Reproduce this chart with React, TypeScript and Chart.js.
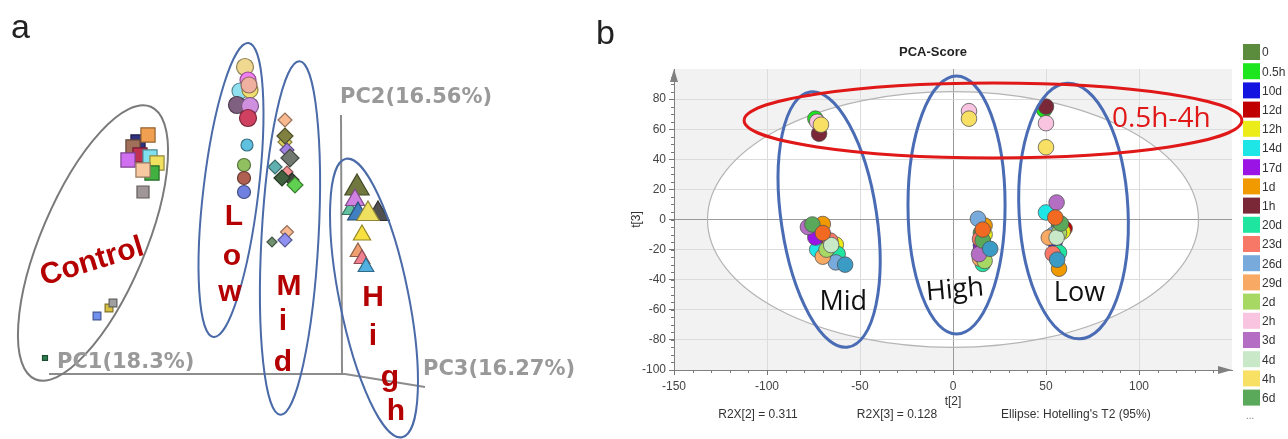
import React, { useEffect, useRef } from "react";
import { Chart, registerables } from "chart.js";
Chart.register(...registerables);

const SANS = '"Liberation Sans", Arial, sans-serif';
const VERD = '"DejaVu Sans", Verdana, sans-serif';
const OPEN = '"Open Sans", "Noto Sans", sans-serif';

// ================= Panel a: projected 3-D PCA scores (drawing units) =================
const controlX = [138, 148, 133, 140, 150, 157, 152, 128, 143, 143, 109, 113, 97, 45];
const controlY = [142, 135, 147, 155, 157, 163, 173, 160, 170, 192, 308, 303, 316, 358];
const controlColors = ["#303080", "#f0a050", "#a0705a", "#c03050", "#80e0f0", "#f0e060", "#40b040", "#d070f0", "#f8c8a0", "#a09898", "#d8c040", "#a0a0a0", "#7090f0", "#308050"];
const controlSizes = [10, 10, 10, 10, 10, 10, 10, 10, 10, 8.5, 5.5, 5.5, 5.5, 3.5];

const lowX = [245, 248, 240, 250, 249, 237, 250, 248, 247, 244, 244, 244];
const lowY = [67, 80, 91, 90, 85, 105, 106, 118, 145, 165, 178, 192];
const lowColors = ["#f0d890", "#f080f0", "#90e0f0", "#f0e070", "#f0b0a0", "#806080", "#d090e0", "#d04060", "#60c0e0", "#90c060", "#b06050", "#7080e0"];
const lowSizes = [8.5, 8, 8, 8, 8, 8.5, 8.5, 8.5, 6, 6.5, 6.5, 6.5];

const midX = [285, 285, 285, 287, 287, 275, 290, 292, 282, 295, 287, 272, 285];
const midY = [120, 142, 136, 150, 172, 167, 158, 180, 178, 185, 232, 242, 240];
const midColors = ["#f8b890", "#e0d060", "#808040", "#a080e0", "#f09090", "#60b0b0", "#707870", "#404840", "#406040", "#60d050", "#f8b890", "#709070", "#9090f0"];
const midSizes = [7, 7, 8, 7, 6, 7, 9, 7, 8, 8, 6.5, 5, 7];

const highX = [357, 350, 355, 378, 358, 368, 362, 358, 362, 366];
const highY = [188, 210, 200, 214, 214, 214, 235, 252, 259, 267];
const highColors = ["#707840", "#60c0a0", "#d080e0", "#505050", "#4080c0", "#f0e060", "#f8e040", "#f0a070", "#f08090", "#50b0e0"];
const highSizes = [14, 9, 11, 13, 12, 13, 10, 9, 9, 9];

// ================= Panel b: PCA-Score t[2] vs t[3] =================
const seriesLabels = ["0", "0.5h", "10d", "12d", "12h", "14d", "17d", "1d", "1h", "20d", "23d", "26d", "29d", "2d", "2h", "3d", "4d", "4h", "6d", "more-1", "more-2"];
const seriesColors = ["#5b8c3e", "#1ee61e", "#1414e0", "#c00000", "#ecec1a", "#1ee6e6", "#9a14e6", "#f09a00", "#7a2838", "#1ee6a0", "#f87868", "#78aadc", "#f8aa64", "#a8d864", "#f8c4e0", "#b46ec4", "#c8e8c8", "#f8e064", "#5aa85a", "#f26a22", "#3a9cc4"];
const seriesT2: number[][] = [
  [-74, 15, 57], [-74, 49], [-72, 15, 54.7], [-72, 16, 60], [-63, 17, 59], [-73, 50], [-74, 15],
  [-70, 17, 57], [-72, 50], [-62, 16, 57], [-66, 14.5, 53.6], [-63, 13.4, 54], [-70, 14.5, 51.5],
  [-68, 17, 57], [-73, 8.6, 50], [-78, 14, 55.7], [-65.5, 55.7], [-71, 8.6, 50], [-75.6, 16, 58],
  [-70, 16, 55], [-58, 20, 56],
];
const seriesT3: number[][] = [
  [-9, -9, -4], [67, 73], [-12, -17, -14.7], [-15, -12, -6], [-16.7, -10, -8], [-20, 4.7], [-12, -20],
  [-3, -4, -32.7], [57, 75], [-23, -29.5, -22], [-14, -13, -22.7], [-28.5, 0.5, -10], [-24.7, -26, -12],
  [-20, -27.5, -9], [65, 72, 64], [-5, -23, 11.3], [-17, -12], [63, 67, 48], [-3.3, -14, -2.7],
  [-9, -6.7, 1.3], [-30, -19.5, -26.7],
];
const legendCount = 19;
const xTickValues = [-150, -100, -50, 0, 50, 100];
const yTickValues = [-100, -80, -60, -40, -20, 0, 20, 40, 60, 80];
const groupLabelsB = ["Mid", "High", "Low"];
const timeLabelB = "0.5h-4h";
const r2xTexts = ["R2X[2] = 0.311", "R2X[3] = 0.128", "Ellipse: Hotelling's T2 (95%)"];

// ---------- helpers ----------
function shade(hex: string, f: number) {
  const n = parseInt(hex.slice(1), 16);
  const r = Math.round(((n >> 16) & 255) * f);
  const g = Math.round(((n >> 8) & 255) * f);
  const b = Math.round((n & 255) * f);
  return `rgb(${r},${g},${b})`;
}
function strokeEllipse(ctx: CanvasRenderingContext2D, cx: number, cy: number, rx: number, ry: number, rotDeg: number) {
  ctx.beginPath();
  ctx.ellipse(cx, cy, rx, ry, (rotDeg * Math.PI) / 180, 0, Math.PI * 2);
  ctx.stroke();
}
function ellPix(chart: any, e: any) {
  const xs = chart.scales.x, ys = chart.scales.y;
  const cx = xs.getPixelForValue(e.cx), cy = ys.getPixelForValue(e.cy);
  const rx = Math.abs(xs.getPixelForValue(e.cx + e.rx) - cx);
  const ry = Math.abs(ys.getPixelForValue(e.cy + e.ry) - cy);
  return { cx, cy, rx, ry };
}

// ---------- panel a overlays ----------
const aEllipses = [
  { cx: 93, cy: 243, rx: 52, ry: 148, rot: 23, color: "#7a7a7a" },
  { cx: 231, cy: 190, rx: 27.5, ry: 148, rot: 6.8, color: "#4a6aa8" },
  { cx: 290, cy: 238, rx: 28.5, ry: 177, rot: 3.1, color: "#4a6aa8" },
  { cx: 374, cy: 298, rx: 34.5, ry: 142, rot: -11.4, color: "#4a6aa8" },
];
const aLetterGroups = [
  { word: "Low", pos: [[234, 217], [232, 257], [230, 293]] },
  { word: "Mid", pos: [[289, 287], [283, 322], [283, 363]] },
  { word: "High", pos: [[373, 298], [373, 337], [390, 378], [396, 412]] },
];

function PanelA() {
  const ref = useRef<HTMLCanvasElement>(null);
  useEffect(() => {
    const groups = [
      { name: "Control", x: controlX, y: controlY, c: controlColors, s: controlSizes, style: "rect" },
      { name: "Low", x: lowX, y: lowY, c: lowColors, s: lowSizes, style: "circle" },
      { name: "Mid", x: midX, y: midY, c: midColors, s: midSizes, style: "rectRot" },
      { name: "High", x: highX, y: highY, c: highColors, s: highSizes, style: "triangle" },
    ];
    const datasets = groups.map((g, gi) => ({
      label: g.name,
      data: g.x.map((x, i) => ({ x, y: g.y[i] })),
      pointStyle: g.style,
      pointRadius: g.s,
      pointBackgroundColor: g.c,
      pointBorderColor: g.c.map((c) => shade(c, 0.6)),
      pointBorderWidth: 1.2,
      showLine: false,
      clip: false,
      order: groups.length - gi,
    }));
    const overlay = {
      id: "overlayA",
      beforeDatasetsDraw(chart: any) {
        const ctx = chart.ctx;
        const xs = chart.scales.x, ys = chart.scales.y;
        const P = (x: number, y: number) => [xs.getPixelForValue(x), ys.getPixelForValue(y)];
        ctx.save();
        ctx.strokeStyle = "#8c8c8c";
        ctx.lineWidth = 2;
        ctx.beginPath();
        let p = P(341, 115); ctx.moveTo(p[0], p[1]);
        p = P(342, 374); ctx.lineTo(p[0], p[1]);
        ctx.stroke();
        ctx.beginPath();
        p = P(49, 374); ctx.moveTo(p[0], p[1]);
        p = P(345, 374); ctx.lineTo(p[0], p[1]);
        p = P(425, 387); ctx.lineTo(p[0], p[1]);
        ctx.stroke();
        ctx.restore();
      },
      afterDatasetsDraw(chart: any) {
        const ctx = chart.ctx;
        const xs = chart.scales.x, ys = chart.scales.y;
        ctx.save();
        ctx.lineWidth = 2;
        aEllipses.forEach((e) => {
          ctx.strokeStyle = e.color;
          const q = ellPix(chart, e);
          strokeEllipse(ctx, q.cx, q.cy, q.rx, q.ry, e.rot);
        });
        // axis titles
        ctx.fillStyle = "#999999";
        ctx.font = `bold 21px ${VERD}`;
        ctx.textAlign = "left";
        ctx.textBaseline = "middle";
        ctx.fillText("PC2(16.56%)", xs.getPixelForValue(340), ys.getPixelForValue(98));
        ctx.fillText("PC1(18.3%)", xs.getPixelForValue(57), ys.getPixelForValue(363));
        ctx.fillText("PC3(16.27%)", xs.getPixelForValue(423), ys.getPixelForValue(370));
        // group labels
        ctx.fillStyle = "#b40000";
        ctx.font = `bold 30px ${SANS}`;
        ctx.textAlign = "center";
        ctx.save();
        ctx.translate(xs.getPixelForValue(92), ys.getPixelForValue(262));
        ctx.rotate((-17 * Math.PI) / 180);
        ctx.fillText("Control", 0, 0);
        ctx.restore();
        aLetterGroups.forEach((g) => {
          g.word.split("").forEach((ch, i) => {
            ctx.fillText(ch, xs.getPixelForValue(g.pos[i][0]), ys.getPixelForValue(g.pos[i][1]));
          });
        });
        // panel letter
        ctx.fillStyle = "#222";
        ctx.font = `34px ${SANS}`;
        ctx.textAlign = "left";
        ctx.textBaseline = "alphabetic";
        ctx.fillText("a", 11, 38);
        ctx.restore();
      },
    };
    const chart = new Chart(ref.current as HTMLCanvasElement, {
      type: "scatter",
      data: { datasets: datasets as any },
      options: {
        animation: false,
        responsive: false,
        devicePixelRatio: 1,
        layout: { padding: 0, autoPadding: false },
        plugins: { legend: { display: false }, tooltip: { enabled: false } },
        scales: {
          x: { type: "linear", min: 0, max: 590, display: false },
          y: { type: "linear", min: 0, max: 439, reverse: true, display: false },
        },
      } as any,
      plugins: [overlay],
    });
    return () => chart.destroy();
  }, []);
  return <canvas ref={ref} width={590} height={439} style={{ position: "absolute", left: 0, top: 0 }} />;
}

// ---------- panel b overlays ----------
const hotelling = { cx: 0, cy: 0, rx: 132, ry: 85 };
const groupEllipsesB = [
  { cx: -66.6, cy: 0, rx: 25.7, ry: 85.7, rot: -8.5 },
  { cx: 1.9, cy: 9.6, rx: 26.1, ry: 85.7, rot: 0 },
  { cx: 64.8, cy: 5.6, rx: 29.3, ry: 85, rot: -2.9 },
];
const timeEllipseB = { cx: 21.5, cy: 65.8, rx: 133.8, ry: 24.9, rot: 0 };
const groupLabelPosB = [[-59, -55, 0], [1, -47, -5], [68, -49, 0]];
const timeLabelPosB = [112, 67];

function PanelB() {
  const ref = useRef<HTMLCanvasElement>(null);
  useEffect(() => {
    const n = seriesLabels.length;
    const datasets = seriesLabels.map((lab, i) => ({
      label: lab,
      data: seriesT2[i].map((x, j) => ({ x, y: seriesT3[i][j] })),
      backgroundColor: seriesColors[i],
      borderColor: "rgba(80,80,80,0.75)",
      pointRadius: 7.8,
      pointBorderWidth: 1,
      order: n - i,
    }));
    const overlay = {
      id: "overlayB",
      beforeDraw(chart: any) {
        const ctx = chart.ctx;
        const a = chart.chartArea;
        ctx.save();
        ctx.fillStyle = "#f2f2f2";
        ctx.fillRect(a.left, a.top, a.right - a.left, a.bottom - a.top);
        const q = ellPix(chart, hotelling);
        ctx.fillStyle = "#ffffff";
        ctx.beginPath();
        ctx.ellipse(q.cx, q.cy, q.rx, q.ry, 0, 0, Math.PI * 2);
        ctx.fill();
        ctx.restore();
      },
      beforeDatasetsDraw(chart: any) {
        const ctx = chart.ctx;
        const a = chart.chartArea;
        const xs = chart.scales.x, ys = chart.scales.y;
        ctx.save();
        ctx.strokeStyle = "#b4b4b4";
        ctx.lineWidth = 1.2;
        const q = ellPix(chart, hotelling);
        strokeEllipse(ctx, q.cx, q.cy, q.rx, q.ry, 0);
        // minor ticks
        ctx.strokeStyle = "#777";
        ctx.lineWidth = 1;
        ctx.beginPath();
        for (let v = -150; v < 150; v += 10) {
          const px = Math.round(xs.getPixelForValue(v)) + 0.5;
          ctx.moveTo(px, a.bottom);
          ctx.lineTo(px, a.bottom + 3);
        }
        for (let v = -100; v < 100; v += 5) {
          const py = Math.round(ys.getPixelForValue(v)) + 0.5;
          ctx.moveTo(a.left - 3, py);
          ctx.lineTo(a.left, py);
        }
        ctx.stroke();
        // arrows
        ctx.fillStyle = "#808080";
        ctx.beginPath();
        ctx.moveTo(a.left, a.top);
        ctx.lineTo(a.left - 4, a.top + 13);
        ctx.lineTo(a.left + 4, a.top + 13);
        ctx.closePath();
        ctx.fill();
        ctx.beginPath();
        ctx.moveTo(a.right, a.bottom);
        ctx.lineTo(a.right - 14, a.bottom - 4);
        ctx.lineTo(a.right - 14, a.bottom + 4);
        ctx.closePath();
        ctx.fill();
        ctx.restore();
      },
      afterDatasetsDraw(chart: any) {
        const ctx = chart.ctx;
        const xs = chart.scales.x, ys = chart.scales.y;
        ctx.save();
        ctx.lineWidth = 3;
        ctx.strokeStyle = "#4a6cb4";
        groupEllipsesB.forEach((e) => {
          const q = ellPix(chart, e);
          strokeEllipse(ctx, q.cx, q.cy, q.rx, q.ry, e.rot);
        });
        ctx.strokeStyle = "#e01818";
        const t = ellPix(chart, timeEllipseB);
        strokeEllipse(ctx, t.cx, t.cy, t.rx, t.ry, timeEllipseB.rot);
        ctx.textAlign = "center";
        ctx.textBaseline = "middle";
        ctx.font = `27px ${OPEN}`;
        ctx.fillStyle = "#111";
        groupLabelsB.forEach((lab, i) => {
          const p = groupLabelPosB[i];
          ctx.save();
          ctx.translate(xs.getPixelForValue(p[0]), ys.getPixelForValue(p[1]));
          ctx.rotate((p[2] * Math.PI) / 180);
          ctx.fillText(lab, 0, 0);
          ctx.restore();
        });
        ctx.fillStyle = "#e01818";
        ctx.font = `28px ${OPEN}`;
        ctx.fillText(timeLabelB, xs.getPixelForValue(timeLabelPosB[0]), ys.getPixelForValue(timeLabelPosB[1]));
        ctx.restore();
      },
      afterDraw(chart: any) {
        const ctx = chart.ctx;
        const a = chart.chartArea;
        ctx.save();
        ctx.fillStyle = "#222";
        ctx.font = `bold 13px ${SANS}`;
        ctx.textAlign = "center";
        ctx.textBaseline = "middle";
        ctx.fillText("PCA-Score", (a.left + a.right) / 2 - 20, 52);
        ctx.fillStyle = "#333";
        ctx.font = `12px ${SANS}`;
        ctx.fillText("t[2]", chart.scales.x.getPixelForValue(0), 402);
        ctx.save();
        ctx.translate(47, chart.scales.y.getPixelForValue(0));
        ctx.rotate(-Math.PI / 2);
        ctx.fillText("t[3]", 0, 0);
        ctx.restore();
        ctx.fillText(r2xTexts[0], 168, 415);
        ctx.fillText(r2xTexts[1], 307, 415);
        ctx.textAlign = "left";
        ctx.fillText(r2xTexts[2], 411, 415);
        // legend
        ctx.font = `12px ${SANS}`;
        for (let i = 0; i < legendCount; i++) {
          const y = 52 + i * 19.2;
          ctx.fillStyle = seriesColors[i];
          ctx.fillRect(653, y - 8, 17, 16);
          ctx.fillStyle = "#333";
          ctx.fillText(seriesLabels[i], 672, y + 1);
        }
        ctx.fillStyle = "#888";
        ctx.font = `10px ${SANS}`;
        ctx.fillText("...", 656, 416);
        // panel letter
        ctx.fillStyle = "#222";
        ctx.font = `34px ${SANS}`;
        ctx.textBaseline = "alphabetic";
        ctx.fillText("b", 6, 44);
        ctx.restore();
      },
    };
    const chart = new Chart(ref.current as HTMLCanvasElement, {
      type: "scatter",
      data: { datasets: datasets as any },
      options: {
        animation: false,
        responsive: false,
        devicePixelRatio: 1,
        layout: { padding: { left: 36, top: 69, right: 56, bottom: 0 }, autoPadding: false },
        plugins: { legend: { display: false }, tooltip: { enabled: false } },
        scales: {
          x: {
            type: "linear",
            min: -150,
            max: 150,
            afterFit: (s: any) => { s.height = 69; },
            afterBuildTicks: (s: any) => { s.ticks = xTickValues.map((v) => ({ value: v })); },
            ticks: { color: "#444", font: { family: SANS, size: 12 }, padding: 4, maxRotation: 0, autoSkip: false },
            grid: { color: (c: any) => (c.tick && c.tick.value === 0 ? "#9a9a9a" : "#dcdcdc"), tickLength: 5, tickColor: "#777", lineWidth: 1 },
            border: { color: "#808080", width: 1 },
          },
          y: {
            type: "linear",
            min: -100,
            max: 100,
            afterFit: (s: any) => { s.width = 48; },
            afterBuildTicks: (s: any) => { s.ticks = yTickValues.map((v) => ({ value: v })); },
            ticks: { color: "#444", font: { family: SANS, size: 12 }, padding: 3, autoSkip: false },
            grid: { color: (c: any) => (c.tick && c.tick.value === 0 ? "#9a9a9a" : "#dcdcdc"), tickLength: 5, tickColor: "#777", lineWidth: 1 },
            border: { color: "#808080", width: 1 },
          },
        },
      } as any,
      plugins: [overlay],
    });
    return () => chart.destroy();
  }, []);
  return <canvas ref={ref} width={698} height={439} style={{ position: "absolute", left: 590, top: 0 }} />;
}

export default function App() {
  return (
    <div style={{ position: "fixed", left: 0, top: 0, width: 1288, height: 439, background: "#ffffff", overflow: "hidden" }}>
      <PanelA />
      <PanelB />
    </div>
  );
}
